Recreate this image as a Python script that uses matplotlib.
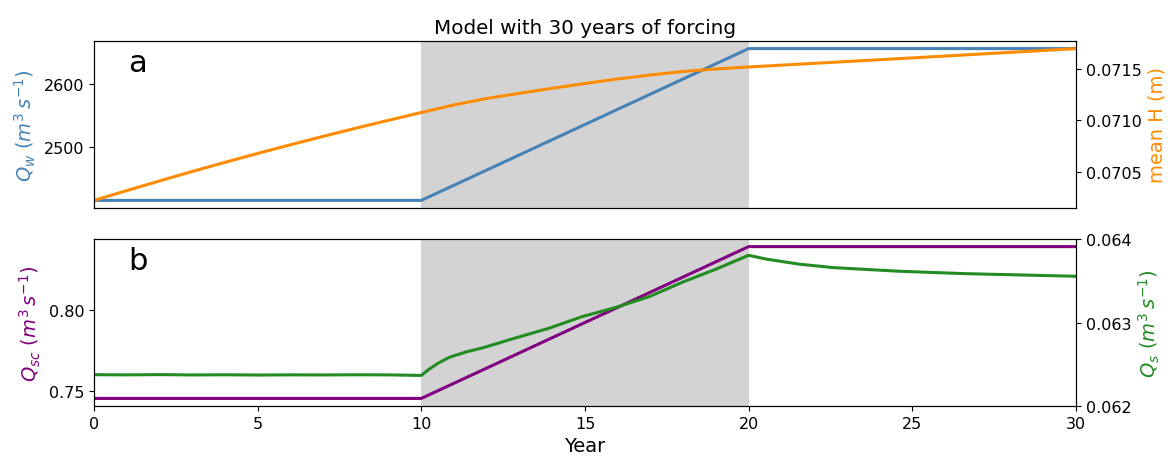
import matplotlib
matplotlib.use('Agg')
import matplotlib.pyplot as plt
import numpy as np

#%% Data
# forcing: Qw and Qsc held, ramped over years 10-20, then held
t_force = [0, 10, 20, 30]
qw = [2417, 2417, 2655, 2655]
qsc = [0.7457, 0.7457, 0.8392, 0.8392]

# mean H response
t_h = [0, 1, 2, 3, 4, 5, 6, 7, 8, 9, 10, 11, 12, 13, 14, 15, 16, 17, 18, 19, 20,
       22, 24, 26, 28, 30]
mean_h = [0.070231, 0.070325, 0.070418, 0.070509, 0.070597, 0.070683, 0.070766,
          0.070847, 0.070926, 0.071002, 0.071077, 0.071150, 0.071212, 0.071262,
          0.071310, 0.071356, 0.071400, 0.071438, 0.071472, 0.071496, 0.071515,
          0.071550, 0.071585, 0.071620, 0.071656, 0.071692]

# sediment flux response
t_qs = [0, 1, 2, 3, 4, 5, 6, 7, 8, 9, 10, 10.2, 10.5, 10.86, 11.37, 11.88, 12.9,
        13.9, 14.9, 15.95, 16.97, 17.99, 19.0, 20, 20.53, 21.55, 22.57, 24.6,
        26.65, 28.7, 30]
qs = [0.062375, 0.062373, 0.062376, 0.062372, 0.062374, 0.062371, 0.062373,
      0.062372, 0.062374, 0.062373, 0.062366, 0.062430, 0.062510, 0.062584,
      0.062648, 0.062697, 0.062818, 0.062931, 0.063069, 0.063182, 0.063311,
      0.063485, 0.063639, 0.063805, 0.063760, 0.063699, 0.063658, 0.063614,
      0.063585, 0.063566, 0.063554]

#%% Plot
fig = plt.figure(figsize=(11.75, 4.6), dpi=100)
ax1 = fig.add_axes([0.0800, 0.5457, 0.8357, 0.3630])
ax2 = fig.add_axes([0.0800, 0.1152, 0.8357, 0.3630], sharex=ax1)

fs = 11.5
for ax in (ax1, ax2):
    ax.axvspan(10, 20, color='lightgrey', lw=0)

ax1.plot(t_force, qw, color='steelblue', lw=2.2)
ax1.set_ylabel(r'$Q_w$ $(m^3\, s^{-1})$', color='steelblue', fontsize=14)
ax1.tick_params(labelsize=fs, bottom=False, labelbottom=False)
ax1b = ax1.twinx()
ax1b.plot(t_h, mean_h, color='darkorange', lw=2.2)
ax1b.set_ylabel('mean H (m)', color='darkorange', fontsize=14)
ax1b.set_yticks([0.0705, 0.0710, 0.0715])
ax1b.set_yticklabels(['0.0705', '0.0710', '0.0715'])
ax1b.tick_params(labelsize=fs)
ax1.set_title('Model with 30 years of forcing', fontsize=14.3)
ax1.text(0.035, 0.82, 'a', transform=ax1.transAxes, fontsize=22)

ax2.plot(t_force, qsc, color='purple', lw=2.2)
ax2.set_ylabel(r'$Q_{sc}$ $(m^3\, s^{-1})$', color='purple', fontsize=14)
ax2.set_yticks([0.75, 0.80])
ax2.tick_params(labelsize=fs)
ax2b = ax2.twinx()
ax2b.plot(t_qs, qs, color='forestgreen', lw=2.2)
ax2b.set_ylim(0.062, 0.064)
ax2b.set_yticks([0.062, 0.063, 0.064])
ax2b.set_ylabel(r'$Q_s$ $(m^3\, s^{-1})$', color='forestgreen', fontsize=14)
ax2b.tick_params(labelsize=fs)
ax2.text(0.035, 0.82, 'b', transform=ax2.transAxes, fontsize=22)

ax2.set_xlim(0, 30)
ax2.set_xticks([0, 5, 10, 15, 20, 25, 30])
ax2.set_xlabel('Year', fontsize=14)

plt.savefig('out.png', dpi=100)
